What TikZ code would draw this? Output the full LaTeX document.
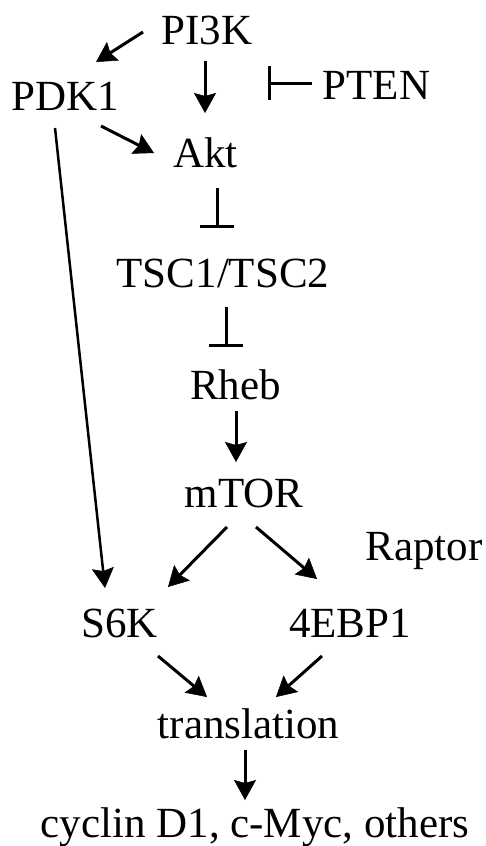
\documentclass[tikz,border=0pt]{standalone}
\usepackage{fontspec}
\setmainfont{Liberation Serif}
\usetikzlibrary{arrows.meta}
\begin{document}
\begin{tikzpicture}[x=1pt,y=-1pt,
  lbl/.style={inner sep=0pt,anchor=base,font=\fontsize{43}{50}\selectfont},
  act/.style={line width=3pt,-{Stealth[length=20pt,width=22pt,inset=3pt,line width=0.5pt]}},
  inh/.style={line width=3pt,-{Bar[width=34pt,line width=3.4pt]}}]
\useasboundingbox (0,0) rectangle (486,846);
% pathway members
\node[lbl] (pi3k)  at (207,44)   {PI3K};
\node[lbl] (pdk1)  at (65,110)   {PDK1};
\node[lbl] (pten)  at (376.5,99) {PTEN};
\node[lbl] (akt)   at (205.5,167){Akt};
\node[lbl] (tsc)   at (223,287)  {TSC1/TSC2};
\node[lbl] (rheb)  at (235.5,399){Rheb};
\node[lbl] (mtor)  at (244,507)  {mTOR};
\node[lbl] (raptor) at (424,560) {Raptor};
\node[lbl] (s6k)   at (119.5,637){S6K};
\node[lbl] (ebp)   at (350,637)  {4EBP1};
\node[lbl] (trans) at (248.5,738){translation};
\node[lbl] (cyc)   at (255,837)  {cyclin D1, c-Myc, others};
% activating links
\draw[act] ([shift={(-64,-12)}]pi3k.base) -- ([shift={(31,-48)}]pdk1.base);
\draw[act] ([shift={(-2,17)}]pi3k.base) -- ([shift={(-0.5,-54)}]akt.base);
\draw[act] ([shift={(36,16)}]pdk1.base) -- ([shift={(-51.5,-14)}]akt.base);
\draw[act, line width=2.5pt] ([shift={(-10,18)}]pdk1.base) -- ([shift={(-14.5,-49)}]s6k.base);
\draw[act] ([shift={(0.5,12)}]rheb.base) -- ([shift={(-8,-45)}]mtor.base);
\draw[act] ([shift={(-17,20)}]mtor.base) -- ([shift={(48.5,-50)}]s6k.base);
\draw[act] ([shift={(12,20)}]mtor.base) -- ([shift={(-33,-58)}]ebp.base);
\draw[act] ([shift={(38.5,19)}]s6k.base) -- ([shift={(-41.5,-41)}]trans.base);
\draw[act] ([shift={(-28,19)}]ebp.base) -- ([shift={(27.5,-41)}]trans.base);
\draw[act] ([shift={(-3.5,12)}]trans.base) -- ([shift={(-10,-37)}]cyc.base);
% inhibitory links
\draw[inh] ([shift={(-64.5,-16)}]pten.base) -- ([shift={(-108.5,-16)}]pten.base);
\draw[inh] ([shift={(11.5,21)}]akt.base) -- ([shift={(-6,-59)}]tsc.base);
\draw[inh] ([shift={(3,20)}]tsc.base) -- ([shift={(-9.5,-52)}]rheb.base);
\end{tikzpicture}
\end{document}
